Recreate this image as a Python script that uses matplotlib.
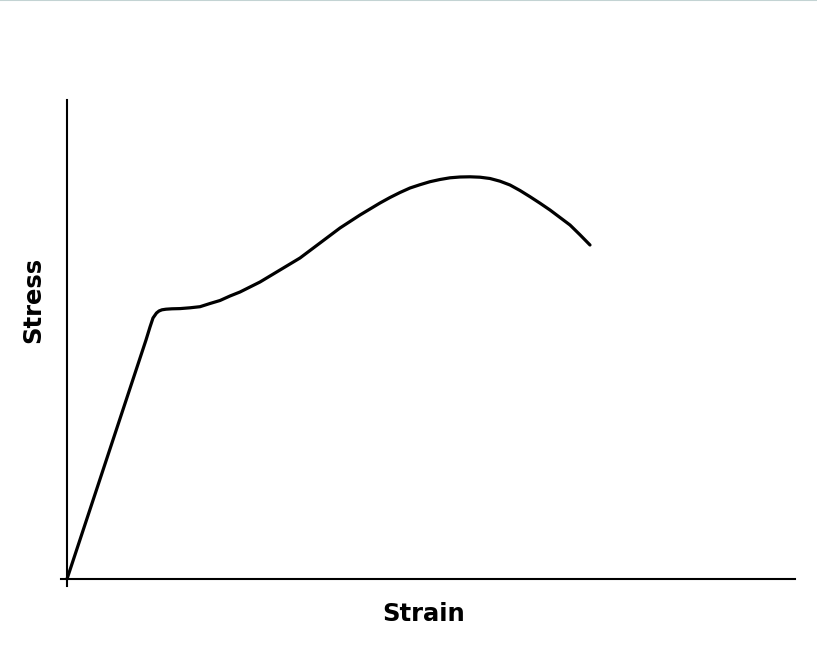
import matplotlib
matplotlib.use("Agg")
import matplotlib.pyplot as plt
from matplotlib.lines import Line2D

# values (arbitrary units, origin at the axes corner)
strain = [0, 79, 83, 86, 89.5, 92, 95, 99, 105, 113, 123, 133, 143, 153, 163,
          173, 183, 193, 203, 213, 223, 233, 243, 253, 263, 273, 283, 293,
          303, 313, 323, 333, 343, 353, 363, 373, 383, 393, 403, 413, 423,
          433, 443, 453, 463, 473, 483, 493, 503, 513, 523]
stress = [0, 239, 252, 261, 266, 268, 269.2, 269.8, 270.2, 270.4, 271.2,
          272.3, 275.5, 278.5, 283, 287, 292, 297, 303, 309, 315, 321, 328.5,
          336, 343.5, 351, 357.5, 364, 370, 376, 381.5, 386.5, 391, 394.3,
          397.3, 399.5, 401.2, 402, 402.2, 401.8, 400.5, 397.8, 394, 388.5,
          382.3, 375.8, 369, 361.5, 354, 344.2, 334]

x_label = "Strain"
y_label = "Stress"

W, H = 817, 646
fig = plt.figure(figsize=(W / 100, H / 100), dpi=100)

# axes box in pixels: left 60.5, right 795, top 100, bottom 586
ax = fig.add_axes([60.5 / W, (H - 586) / H, (795 - 60.5) / W, (586 - 100) / H])
ax.plot(strain, stress, color="black", lw=2.3, solid_capstyle="round",
        solid_joinstyle="round")

ax.set_xlim(-6.5, 728)
ax.set_ylim(-7, 479)
for side in ("top", "right"):
    ax.spines[side].set_visible(False)
for side in ("left", "bottom"):
    ax.spines[side].set_position(("data", 0))
    ax.spines[side].set_linewidth(1.5)
ax.set_xticks([])
ax.set_yticks([])
ax.patch.set_visible(False)

fig.text(424 / W, 1 - 614 / H, x_label, ha="center", va="center",
         fontsize=17.5, fontweight="bold", family="DejaVu Sans")
fig.text(33 / W, 1 - 300 / H, y_label, ha="center", va="center", rotation=90,
         fontsize=17.5, fontweight="bold", family="DejaVu Sans")

# thin grey border at the top of the image
fig.add_artist(Line2D([0, 1], [1, 1], transform=fig.transFigure,
                      color="#c3d3d3", lw=1.5))

fig.savefig("out.png", dpi=100)
